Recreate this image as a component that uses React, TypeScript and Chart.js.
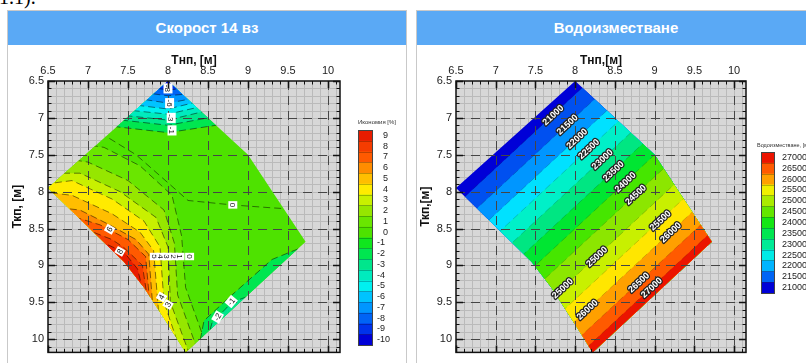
import React, { useEffect, useRef } from 'react';
import { Chart, registerables } from 'chart.js';

Chart.register(...registerables);

// ---------------- shared axes ----------------
const xTickValues = [6.5, 7, 7.5, 8, 8.5, 9, 9.5, 10];
const yTickValues = [6.5, 7, 7.5, 8, 8.5, 9, 9.5, 10];
const xRange = [6.5, 10.15];
const yRange = [6.5, 10.18];

// outline of the computed domain (Тнп, Ткп)
const domainOutline: number[][] = [
  [8.0, 6.5], [9.0, 7.5], [9.72, 8.68], [8.22, 10.18], [8.0, 9.8], [7.7, 9.3], [7.45, 8.95], [6.5, 7.95],
];

// ---------------- left chart: Икономия [%] ----------------
const ecoTitle = 'Скорост 14 вз';
const ecoLegendTitle = 'Икономия [%]';
const ecoLevels = [9, 8, 7, 6, 5, 4, 3, 2, 1, 0, -1, -2, -3, -4, -5, -6, -7, -8, -9, -10];
const ecoColors = [
  '#e81c00', '#f53c00', '#ff5a00', '#ff8c00', '#ffbe00', '#ffeb00', '#c8f000', '#96e600', '#6ae600', '#4ee200',
  '#10e61e', '#00e650', '#00e68c', '#00ebbe', '#00f0f0', '#00c3ff', '#0096ff', '#0064f5', '#0032eb', '#0000d7',
];
// contours where the higher values lie to the lower-left
const ecoPositiveContours = [
  { level: 1, pts: [[6.9, 7.35], [7.2, 7.4], [7.65, 7.65], [8.05, 8.05], [8.17, 8.6], [8.22, 9.3], [8.55, 10.3]] },
  { level: 2, pts: [[6.7, 7.55], [7.0, 7.6], [7.5, 7.85], [7.95, 8.25], [8.08, 8.7], [8.12, 9.4], [8.42, 10.3]] },
  { level: 3, pts: [[6.55, 7.75], [6.9, 7.75], [7.4, 8.0], [7.85, 8.35], [8.0, 8.75], [8.03, 9.5], [8.3, 10.3]] },
  { level: 4, pts: [[6.45, 7.9], [6.8, 7.85], [7.3, 8.1], [7.7, 8.4], [7.9, 8.75], [7.95, 9.5], [8.2, 10.3]] },
  { level: 5, pts: [[6.4, 8.0], [6.8, 8.05], [7.3, 8.3], [7.65, 8.55], [7.82, 8.8], [7.88, 9.6], [8.05, 10.0]] },
  { level: 6, pts: [[6.5, 8.2], [6.9, 8.25], [7.27, 8.45], [7.6, 8.65], [7.76, 8.85], [7.82, 9.7]] },
  { level: 7, pts: [[6.7, 8.3], [7.15, 8.45], [7.5, 8.65], [7.72, 8.88], [7.78, 9.6]] },
  { level: 8, pts: [[6.95, 8.5], [7.3, 8.65], [7.45, 8.76], [7.68, 9.0], [7.75, 9.5]] },
  { level: 9, pts: [[7.0, 8.6], [7.45, 8.82], [7.62, 9.05], [7.7, 9.4]] },
];
// contours near the top vertex, lower values above
const ecoTopContours = [
  { level: -1, pts: [[7.05, 7.05], [7.35, 7.12], [8.0, 7.2], [8.6, 7.1], [8.9, 7.0]] },
  { level: -2, pts: [[7.15, 6.95], [7.42, 7.03], [8.0, 7.1], [8.5, 7.0], [8.8, 6.95]] },
  { level: -3, pts: [[7.2, 6.9], [7.48, 6.97], [8.0, 7.03], [8.42, 6.92], [8.7, 6.85]] },
  { level: -4, pts: [[7.3, 6.8], [7.55, 6.9], [8.0, 6.95], [8.36, 6.86], [8.6, 6.8]] },
  { level: -5, pts: [[7.35, 6.75], [7.62, 6.83], [8.0, 6.88], [8.3, 6.8], [8.5, 6.75]] },
  { level: -6, pts: [[7.45, 6.68], [7.7, 6.75], [8.0, 6.8], [8.25, 6.75], [8.45, 6.7]] },
  { level: -7, pts: [[7.55, 6.6], [7.78, 6.67], [8.0, 6.7], [8.2, 6.68], [8.4, 6.65]] },
  { level: -8, pts: [[7.6, 6.55], [7.85, 6.6], [8.0, 6.62], [8.12, 6.61], [8.3, 6.6]] },
  { level: -9, pts: [[7.7, 6.5], [7.92, 6.53], [8.0, 6.56], [8.06, 6.55], [8.2, 6.5]] },
];
// contours along the lower-right edge, lower values to the lower-right
const ecoEdgeContours = [
  { level: -1, pts: [[8.35, 10.3], [8.45, 9.75], [8.8, 9.4], [9.3, 8.92], [9.8, 8.7]] },
  { level: -2, pts: [[8.42, 10.3], [8.55, 9.78], [8.8, 9.5], [9.05, 9.4]] },
];
const ecoZeroContour = [[7.15, 7.2], [7.6, 7.5], [8.0, 7.88], [8.25, 8.12], [8.8, 8.18], [9.3, 8.22], [9.9, 8.26]];
const ecoLabels = [
  { t: '-8', x: 8.0, y: 6.6, a: 90 },
  { t: '-6', x: 8.02, y: 6.8, a: 90 },
  { t: '-3', x: 8.04, y: 7.0, a: 90 },
  { t: '-1', x: 8.05, y: 7.17, a: 90 },
  { t: '6', x: 7.27, y: 8.51, a: -60 },
  { t: '8', x: 7.4, y: 8.81, a: -60 },
  { t: '5', x: 7.83, y: 8.88, a: 90 },
  { t: '4', x: 7.91, y: 8.88, a: 90 },
  { t: '3', x: 7.99, y: 8.88, a: 90 },
  { t: '2', x: 8.07, y: 8.88, a: 90 },
  { t: '1', x: 8.15, y: 8.88, a: 90 },
  { t: '0', x: 8.27, y: 8.88, a: 90 },
  { t: '4', x: 7.92, y: 9.43, a: -60 },
  { t: '3', x: 8.0, y: 9.53, a: -60 },
  { t: '0', x: 8.81, y: 8.18, a: 90 },
  { t: '-1', x: 8.79, y: 9.49, a: -50 },
  { t: '-2', x: 8.62, y: 9.7, a: -60 },
];

// ---------------- right chart: Водоизместване ----------------
const volTitle = 'Водоизместване';
const volLegendTitle = 'Водоизместване, [м³]';
const volLevels = [21000, 21500, 22000, 22500, 23000, 23500, 24000, 24500, 25000, 25500, 26000, 26500, 27000];
const volLegendColors = [
  '#0000d7', '#0064f5', '#00b4ff', '#00ebe6', '#00eb96', '#00e650', '#14e614', '#64e600', '#aaeb00', '#f0f000', '#ffa000', '#ff5a00', '#eb1400',
];
const volBandColors = [
  '#0000d7', '#0050f0', '#0096ff', '#00e1ff', '#00f0c8', '#00e682', '#00e632', '#46e600', '#8ce600', '#c8f000', '#ffe600', '#ffa000', '#ff5a00', '#eb1400',
];
const volContours = [
  [[6.0, 8.68], [10.5, 4.18]],
  [[6.0, 8.99], [10.5, 4.49]],
  [[6.0, 9.3], [10.5, 4.8]],
  [[6.0, 9.59], [10.5, 5.09]],
  [[6.0, 9.9], [10.5, 5.4]],
  [[6.0, 10.2], [10.5, 5.7]],
  [[6.0, 10.5], [10.5, 6.0]],
  [[6.0, 10.8], [10.5, 6.3]],
  [[6.0, 11.15], [10.5, 6.65]],
  [[6.0, 11.46], [10.5, 6.96]],
  [[6.0, 11.75], [10.5, 7.25]],
  [[6.0, 12.03], [10.5, 7.53]],
  [[6.0, 12.26], [10.5, 7.76]],
];
const volLabels = [
  { t: '21000', x: 7.72, y: 6.96 }, { t: '21500', x: 7.9, y: 7.09 }, { t: '22000', x: 8.02, y: 7.28 },
  { t: '22500', x: 8.17, y: 7.42 }, { t: '23000', x: 8.34, y: 7.56 }, { t: '23500', x: 8.48, y: 7.72 },
  { t: '24000', x: 8.63, y: 7.87 }, { t: '24500', x: 8.76, y: 8.04 }, { t: '25000', x: 8.27, y: 8.88 },
  { t: '25000', x: 7.84, y: 9.31 }, { t: '25500', x: 9.07, y: 8.39 }, { t: '26000', x: 9.2, y: 8.55 },
  { t: '26000', x: 8.15, y: 9.6 }, { t: '26500', x: 8.8, y: 9.23 }, { t: '27000', x: 8.96, y: 9.3 },
];

// ---------------- drawing helpers ----------------
type F = (v: number) => number;
const FAR = 40;

function trace(ctx: CanvasRenderingContext2D, pts: number[][], X: F, Y: F) {
  pts.forEach((p, i) => (i === 0 ? ctx.moveTo(X(p[0]), Y(p[1])) : ctx.lineTo(X(p[0]), Y(p[1]))));
}

function regionPath(ctx: CanvasRenderingContext2D, pts: number[][], side: string, X: F, Y: F) {
  const f = pts[0];
  const l = pts[pts.length - 1];
  ctx.beginPath();
  trace(ctx, pts, X, Y);
  if (side === 'lowerLeft') {
    ctx.lineTo(X(l[0]), Y(FAR));
    ctx.lineTo(X(-FAR), Y(FAR));
    ctx.lineTo(X(-FAR), Y(f[1]));
  } else if (side === 'upper') {
    ctx.lineTo(X(l[0]), Y(-FAR));
    ctx.lineTo(X(f[0]), Y(-FAR));
  } else {
    ctx.lineTo(X(FAR), Y(l[1]));
    ctx.lineTo(X(FAR), Y(FAR));
    ctx.lineTo(X(f[0]), Y(FAR));
  }
  ctx.closePath();
}

const ecoColor = (lv: number) => ecoColors[ecoLevels.indexOf(lv)];

function drawEcoFill(ctx: CanvasRenderingContext2D, X: F, Y: F) {
  ctx.fillStyle = ecoColor(0);
  ctx.fillRect(-5000, -5000, 10000, 10000);
  ecoPositiveContours.forEach((c) => {
    regionPath(ctx, c.pts, 'lowerLeft', X, Y);
    ctx.fillStyle = ecoColor(c.level);
    ctx.fill();
  });
  ecoTopContours.forEach((c) => {
    regionPath(ctx, c.pts, 'upper', X, Y);
    ctx.fillStyle = ecoColor(c.level - 1);
    ctx.fill();
  });
  ecoEdgeContours.forEach((c) => {
    regionPath(ctx, c.pts, 'lowerRight', X, Y);
    ctx.fillStyle = ecoColor(c.level - 1);
    ctx.fill();
  });
}

function drawEcoLines(ctx: CanvasRenderingContext2D, X: F, Y: F) {
  ctx.strokeStyle = 'rgba(0,0,0,0.55)';
  ctx.lineWidth = 0.9;
  ctx.setLineDash([7, 4]);
  const all = [
    ...ecoPositiveContours.map((c) => c.pts),
    ...ecoTopContours.map((c) => c.pts),
    ...ecoEdgeContours.map((c) => c.pts),
    ecoZeroContour,
  ];
  all.forEach((pts) => {
    ctx.beginPath();
    trace(ctx, pts, X, Y);
    ctx.stroke();
  });
  ctx.setLineDash([]);
}

function drawEcoLabels(ctx: CanvasRenderingContext2D, X: F, Y: F) {
  ctx.font = '8px Arial';
  ctx.textAlign = 'center';
  ctx.textBaseline = 'middle';
  ecoLabels.forEach((l) => {
    const w = ctx.measureText(l.t).width;
    ctx.save();
    ctx.translate(X(l.x), Y(l.y));
    ctx.rotate((l.a * Math.PI) / 180);
    ctx.fillStyle = '#ffffff';
    ctx.fillRect(-w / 2 - 1.5, -4.5, w + 3, 9);
    ctx.fillStyle = '#111';
    ctx.fillText(l.t, 0, 0.5);
    ctx.restore();
  });
}

function drawVolFill(ctx: CanvasRenderingContext2D, X: F, Y: F) {
  ctx.fillStyle = volBandColors[0];
  ctx.fillRect(-5000, -5000, 10000, 10000);
  volContours.forEach((pts, i) => {
    regionPath(ctx, pts, 'lowerRight', X, Y);
    ctx.fillStyle = volBandColors[i + 1];
    ctx.fill();
  });
}

function drawVolLines(ctx: CanvasRenderingContext2D, X: F, Y: F) {
  ctx.strokeStyle = 'rgba(0,0,0,0.22)';
  ctx.lineWidth = 0.8;
  ctx.setLineDash([7, 4]);
  volContours.forEach((pts) => {
    ctx.beginPath();
    trace(ctx, pts, X, Y);
    ctx.stroke();
  });
  ctx.setLineDash([]);
}

function drawVolLabels(ctx: CanvasRenderingContext2D, X: F, Y: F) {
  const ang = Math.atan2(Y(7) - Y(8), X(8) - X(7));
  ctx.font = 'bold 9px Arial';
  ctx.textAlign = 'center';
  ctx.textBaseline = 'middle';
  ctx.lineJoin = 'round';
  volLabels.forEach((l) => {
    ctx.save();
    ctx.translate(X(l.x), Y(l.y));
    ctx.rotate(ang);
    ctx.strokeStyle = '#222';
    ctx.lineWidth = 2.6;
    ctx.strokeText(l.t, 0, 0.5);
    ctx.fillStyle = '#ffffff';
    ctx.fillText(l.t, 0, 0.5);
    ctx.restore();
  });
}

interface Spec {
  drawFill: (c: CanvasRenderingContext2D, X: F, Y: F) => void;
  drawLines: (c: CanvasRenderingContext2D, X: F, Y: F) => void;
  drawLabels: (c: CanvasRenderingContext2D, X: F, Y: F) => void;
  legendLabels: string[];
  legendColors: string[];
  legendTitle: string;
  cb: { dx: number; dy: number; w: number; h: number; labelDx: number; minusW: number; titleDy: number; titleDx: number; titleAlign: CanvasTextAlign; titleFont: string };
}

function contourPlugin(spec: Spec) {
  return {
    id: 'contourMap',
    afterDraw(chart: any) {
      const ctx: CanvasRenderingContext2D = chart.ctx;
      const ca = chart.chartArea;
      const sx = chart.scales.x;
      const sy = chart.scales.y;
      const X = (v: number) => sx.getPixelForValue(v);
      const Y = (v: number) => sy.getPixelForValue(v);
      const W = ca.right - ca.left;
      const H = ca.bottom - ca.top;

      ctx.save();
      ctx.beginPath();
      ctx.rect(ca.left, ca.top, W, H);
      ctx.clip();
      ctx.fillStyle = '#d7d7d7';
      ctx.fillRect(ca.left, ca.top, W, H);
      // fine grid
      ctx.strokeStyle = '#bababa';
      ctx.lineWidth = 1;
      ctx.beginPath();
      for (let i = 1; i < 40; i++) {
        const v = xRange[0] + i * 0.1;
        if (v >= xRange[1]) break;
        const p = Math.round(X(v)) + 0.5;
        ctx.moveTo(p, ca.top);
        ctx.lineTo(p, ca.bottom);
      }
      for (let i = 1; i < 40; i++) {
        const v = yRange[0] + i * 0.1;
        if (v >= yRange[1]) break;
        const p = Math.round(Y(v)) + 0.5;
        ctx.moveTo(ca.left, p);
        ctx.lineTo(ca.right, p);
      }
      ctx.stroke();
      // filled contour bands
      ctx.save();
      ctx.beginPath();
      trace(ctx, domainOutline, X, Y);
      ctx.closePath();
      ctx.clip();
      spec.drawFill(ctx, X, Y);
      ctx.restore();
      // major dashed grid
      ctx.strokeStyle = '#454545';
      ctx.lineWidth = 1;
      ctx.setLineDash([9, 6]);
      ctx.beginPath();
      xTickValues.slice(1).forEach((v) => {
        const p = Math.round(X(v)) + 0.5;
        ctx.moveTo(p, ca.top);
        ctx.lineTo(p, ca.bottom);
      });
      yTickValues.slice(1).forEach((v) => {
        const p = Math.round(Y(v)) + 0.5;
        ctx.moveTo(ca.left, p);
        ctx.lineTo(ca.right, p);
      });
      ctx.stroke();
      ctx.setLineDash([]);
      // contour lines
      ctx.save();
      ctx.beginPath();
      trace(ctx, domainOutline, X, Y);
      ctx.closePath();
      ctx.clip();
      spec.drawLines(ctx, X, Y);
      ctx.restore();
      spec.drawLabels(ctx, X, Y);
      ctx.restore();

      // frame and ticks
      ctx.save();
      ctx.strokeStyle = '#111';
      ctx.lineWidth = 1.5;
      ctx.strokeRect(ca.left, ca.top, W, H);
      for (let i = 0; i <= 40; i++) {
        const v = xRange[0] + i * 0.1;
        if (v > xRange[1] + 1e-6) break;
        const major = i % 5 === 0;
        const len = major ? 7 : 3.5;
        ctx.lineWidth = major ? 1.6 : 1;
        const p = Math.round(X(v)) + 0.5;
        ctx.beginPath();
        ctx.moveTo(p, ca.top);
        ctx.lineTo(p, ca.top + len);
        ctx.moveTo(p, ca.bottom);
        ctx.lineTo(p, ca.bottom - len);
        ctx.stroke();
      }
      for (let i = 0; i <= 40; i++) {
        const v = yRange[0] + i * 0.1;
        if (v > yRange[1] + 1e-6) break;
        const major = i % 5 === 0;
        const len = major ? 7 : 3.5;
        ctx.lineWidth = major ? 1.6 : 1;
        const p = Math.round(Y(v)) + 0.5;
        ctx.beginPath();
        ctx.moveTo(ca.left, p);
        ctx.lineTo(ca.left + len, p);
        ctx.moveTo(ca.right, p);
        ctx.lineTo(ca.right - len, p);
        ctx.stroke();
      }
      // colour legend
      const cb = spec.cb;
      const cx = ca.right + cb.dx;
      const cy = ca.top + cb.dy;
      const n = spec.legendColors.length;
      const bh = cb.h / n;
      spec.legendColors.forEach((c, i) => {
        ctx.fillStyle = c;
        ctx.fillRect(cx, cy + i * bh, cb.w, bh + 0.5);
      });
      ctx.strokeStyle = 'rgba(0,0,0,0.25)';
      ctx.lineWidth = 1;
      ctx.beginPath();
      for (let i = 1; i < n; i++) {
        const yy = Math.round(cy + i * bh) + 0.5;
        ctx.moveTo(cx, yy);
        ctx.lineTo(cx + cb.w, yy);
      }
      ctx.stroke();
      ctx.strokeStyle = '#444';
      ctx.strokeRect(cx + 0.5, cy + 0.5, cb.w, cb.h);
      ctx.fillStyle = '#222';
      ctx.font = '9px Arial';
      ctx.textAlign = 'left';
      ctx.textBaseline = 'middle';
      spec.legendLabels.forEach((t, i) => {
        const off = t.startsWith('-') ? 0 : cb.minusW;
        ctx.fillText(t, cx + cb.w + cb.labelDx + off, cy + (i + 0.5) * bh);
      });
      ctx.font = cb.titleFont;
      ctx.textAlign = cb.titleAlign;
      ctx.fillStyle = '#333';
      ctx.fillText(spec.legendTitle, cx + cb.titleDx, cy + cb.titleDy);
      ctx.restore();
    },
  };
}

interface ChartProps {
  spec: Spec;
  xTitle: string;
  yTitle: string;
  width: number;
  height: number;
  yAxisWidth: number;
  padRight: number;
  yTitlePad: number;
}

function ContourChart(props: ChartProps) {
  const ref = useRef<HTMLCanvasElement>(null);
  useEffect(() => {
    const tickFont = { size: 11, family: 'Arial' };
    const titleFont = { size: 12, weight: 'bold' as const, family: 'Arial' };
    const chart = new Chart(ref.current as HTMLCanvasElement, {
      type: 'scatter',
      data: {
        datasets: [
          { data: domainOutline.map(([x, y]) => ({ x, y })), pointRadius: 0, showLine: false },
        ],
      },
      options: {
        responsive: false,
        animation: false,
        events: [],
        layout: { padding: { left: 0, right: props.padRight, top: 0, bottom: 10 } },
        plugins: { legend: { display: false }, tooltip: { enabled: false } },
        scales: {
          x: {
            type: 'linear',
            position: 'top',
            min: xRange[0],
            max: xRange[1],
            afterFit: (s: any) => { s.height = 36; },
            afterBuildTicks: (s: any) => { s.ticks = xTickValues.map((v) => ({ value: v })); },
            grid: { display: false, drawTicks: false },
            border: { display: false },
            ticks: { padding: 3, font: tickFont, color: '#222', maxRotation: 0, autoSkip: false, callback: (v: any) => String(v) },
            title: { display: true, text: props.xTitle, font: titleFont, color: '#111', padding: { top: 8, bottom: 0 } },
          },
          y: {
            type: 'linear',
            reverse: true,
            min: yRange[0],
            max: yRange[1],
            afterFit: (s: any) => { s.width = props.yAxisWidth; },
            afterBuildTicks: (s: any) => { s.ticks = yTickValues.map((v) => ({ value: v })); },
            grid: { display: false, drawTicks: false },
            border: { display: false },
            ticks: { padding: 4, font: tickFont, color: '#222', autoSkip: false, callback: (v: any) => String(v) },
            title: { display: true, text: props.yTitle, font: titleFont, color: '#111', padding: { top: props.yTitlePad, bottom: 0 } },
          },
        },
      } as any,
      plugins: [contourPlugin(props.spec)],
    });
    return () => chart.destroy();
  }, []);
  return <canvas ref={ref} width={props.width} height={props.height} style={{ display: 'block', width: props.width, height: props.height }} />;
}

const ecoSpec: Spec = {
  drawFill: drawEcoFill,
  drawLines: drawEcoLines,
  drawLabels: drawEcoLabels,
  legendLabels: ecoLevels.map(String),
  legendColors: ecoColors,
  legendTitle: ecoLegendTitle,
  cb: { dx: 18, dy: 49, w: 14, h: 215, labelDx: 5, minusW: 6, titleDy: -8, titleDx: 19, titleAlign: 'center', titleFont: '6px Arial' },
};

const volSpec: Spec = {
  drawFill: drawVolFill,
  drawLines: drawVolLines,
  drawLabels: drawVolLabels,
  legendLabels: volLevels.slice().reverse().map(String),
  legendColors: volLegendColors.slice().reverse(),
  legendTitle: volLegendTitle,
  cb: { dx: 15, dy: 71, w: 13, h: 141, labelDx: 8, minusW: 0, titleDy: -7, titleDx: -4, titleAlign: 'left', titleFont: '5.5px Arial' },
};

function Panel(props: { left: number; title: string; children: React.ReactNode }) {
  return (
    <div
      style={{
        position: 'absolute', left: props.left, top: 10, width: 400, height: 370,
        border: '1px solid #c9c9c9', boxSizing: 'border-box', background: '#fff',
      }}
    >
      <div
        style={{
          height: 34, background: '#5aa9f5', color: '#fff', textAlign: 'center',
          fontFamily: 'Arial, "Liberation Sans", sans-serif', fontWeight: 'bold', fontSize: 15, lineHeight: '34px',
        }}
      >
        {props.title}
      </div>
      {props.children}
    </div>
  );
}

const leftYTitle = '\u0020\u0020\u0020\u0020\u0020\u0020Ткп, [м]';
const rightYTitle = '\u0020\u0020\u0020\u0020\u0020\u0020Ткп,[м]';

export default function App() {
  return (
    <div style={{ position: 'fixed', left: 0, top: 0, width: 806, height: 363, overflow: 'hidden', background: '#fff' }}>
      <div style={{ position: 'absolute', left: -1, top: -14, font: '20px "Liberation Serif", serif', color: '#000', whiteSpace: 'nowrap' }}>1.1).</div>
      <Panel left={7} title={ecoTitle}>
        <ContourChart spec={ecoSpec} xTitle="Тнп, [м]" yTitle={leftYTitle} width={397} height={318} yAxisWidth={40} padRight={65} yTitlePad={2} />
      </Panel>
      <Panel left={416} title={volTitle}>
        <ContourChart spec={volSpec} xTitle="Тнп,[м]" yTitle={rightYTitle} width={397} height={318} yAxisWidth={39} padRight={68} yTitlePad={1} />
      </Panel>
    </div>
  );
}
